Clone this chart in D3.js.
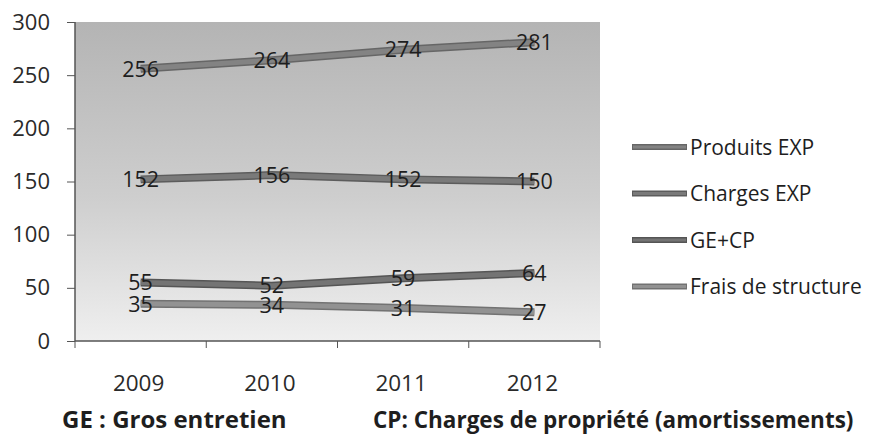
<!DOCTYPE html>
<html>
<head>
<meta charset="utf-8">
<script src="https://cdn.jsdelivr.net/npm/d3@7"></script>
<style>
  body { margin: 0; background: #fff; }
  svg { display: block; font-family: "Open Sans", sans-serif; }
</style>
</head>
<body>
<svg id="chart" width="875" height="436"></svg>
<script>
// data
var years = ['2009', '2010', '2011', '2012'];
var seriesNames = ['Produits EXP', 'Charges EXP', 'GE+CP', 'Frais de structure'];
var produits = [256, 264, 274, 281];
var charges = [152, 156, 152, 150];
var geCp = [55, 52, 59, 64];
var frais = [35, 34, 31, 27];
var yTicks = [0, 50, 100, 150, 200, 250, 300];

var series = [
    {name: seriesNames[0], values: produits, color: '#838383', edge: '#666'},
    {name: seriesNames[1], values: charges, color: '#7a7a7a', edge: '#5c5c5c'},
    {name: seriesNames[2], values: geCp, color: '#747474', edge: '#555'},
    {name: seriesNames[3], values: frais, color: '#929292', edge: '#727272'}
];

var svg = d3.select('#chart');
var plot = {left: 75, right: 600, top: 22, bottom: 341};

var x = d3.scaleBand().domain(years).range([plot.left, plot.right]);
var y = d3.scaleLinear().domain([0, 300]).range([plot.bottom, plot.top]);

// gray gradient background like the Excel plot area
var defs = svg.append('defs');
var grad = defs.append('linearGradient').attr('id', 'bg')
    .attr('x1', 0).attr('y1', 0).attr('x2', 0).attr('y2', 1);
grad.append('stop').attr('offset', '0%').attr('stop-color', '#b4b4b4');
grad.append('stop').attr('offset', '55%').attr('stop-color', '#cecece');
grad.append('stop').attr('offset', '100%').attr('stop-color', '#efefef');

svg.append('rect')
    .attr('x', plot.left).attr('y', plot.top)
    .attr('width', plot.right - plot.left).attr('height', plot.bottom - plot.top)
    .attr('fill', 'url(#bg)');

// y axis
var yAxis = svg.append('g')
    .attr('transform', 'translate(' + plot.left + ',0)')
    .call(d3.axisLeft(y).tickValues(yTicks).tickSize(8).tickPadding(17));
yAxis.select('.domain').attr('stroke', '#555').attr('stroke-width', 1.5)
    .attr('d', 'M0,' + plot.top + 'V' + plot.bottom);
yAxis.selectAll('.tick line').attr('stroke', '#555');
yAxis.selectAll('.tick text')
    .attr('font-size', 22).attr('fill', '#2a2a2a')
    .attr('font-family', '"Open Sans", sans-serif');

// x axis, ticks on category boundaries
var xAxis = svg.append('g')
    .attr('transform', 'translate(0,' + plot.bottom + ')');
xAxis.append('line')
    .attr('x1', plot.left).attr('x2', plot.right)
    .attr('stroke', '#555').attr('stroke-width', 1.5);
var bounds = years.map(function (d) { return x(d); }).concat([plot.right]);
xAxis.selectAll('.xtick').data(bounds).enter().append('line')
    .attr('x1', function (d) { return d; }).attr('x2', function (d) { return d; })
    .attr('y1', 0).attr('y2', 7)
    .attr('stroke', '#555');
xAxis.selectAll('.xlabel').data(years).enter().append('text')
    .attr('x', function (d) { return x(d) + x.bandwidth() / 2 - 2; })
    .attr('y', 42)
    .attr('dy', '0.36em')
    .attr('text-anchor', 'middle')
    .attr('font-size', 22.5).attr('fill', '#2a2a2a')
    .text(function (d) { return d; });

// lines
var line = d3.line()
    .x(function (d, i) { return x(years[i]) + x.bandwidth() / 2; })
    .y(function (d) { return y(d); });

var lines = svg.append('g');
series.forEach(function (s) {
    lines.append('path').attr('d', line(s.values))
        .attr('fill', 'none').attr('stroke', s.edge).attr('stroke-width', 8);
    lines.append('path').attr('d', line(s.values))
        .attr('fill', 'none').attr('stroke', s.color).attr('stroke-width', 5);
});

// data labels, centered on the points
var labels = svg.append('g');
series.forEach(function (s) {
    labels.selectAll(null).data(s.values).enter().append('text')
        .attr('x', function (d, i) { return x(years[i]) + x.bandwidth() / 2; })
        .attr('y', function (d) { return y(d); })
        .attr('dy', '0.36em')
        .attr('text-anchor', 'middle')
        .attr('font-size', 21.5).attr('fill', '#1e1e1e')
        .text(function (d) { return d; });
});

// legend
var legend = svg.append('g').attr('transform', 'translate(632,147)');
var items = legend.selectAll('g').data(series).enter().append('g')
    .attr('transform', function (d, i) { return 'translate(0,' + (i * 46.5) + ')'; });
items.append('line').attr('x1', 0).attr('x2', 55)
    .attr('stroke', function (d) { return d.edge; }).attr('stroke-width', 6);
items.append('line').attr('x1', 1).attr('x2', 54)
    .attr('stroke', function (d) { return d.color; }).attr('stroke-width', 3);
items.append('text').attr('x', 58).attr('dy', '0.36em')
    .attr('font-size', 21).attr('fill', '#1e1e1e')
    .text(function (d) { return d.name; });

// footnote
svg.append('text').attr('x', 62).attr('y', 428)
    .attr('font-size', 24).attr('font-weight', 'bold').attr('fill', '#1e1e1e')
    .text('GE : Gros entretien');
svg.append('text').attr('x', 373).attr('y', 428)
    .attr('font-size', 22.5).attr('font-weight', 'bold').attr('fill', '#1e1e1e')
    .text('CP: Charges de propriété (amortissements)');
</script>
</body>
</html>
